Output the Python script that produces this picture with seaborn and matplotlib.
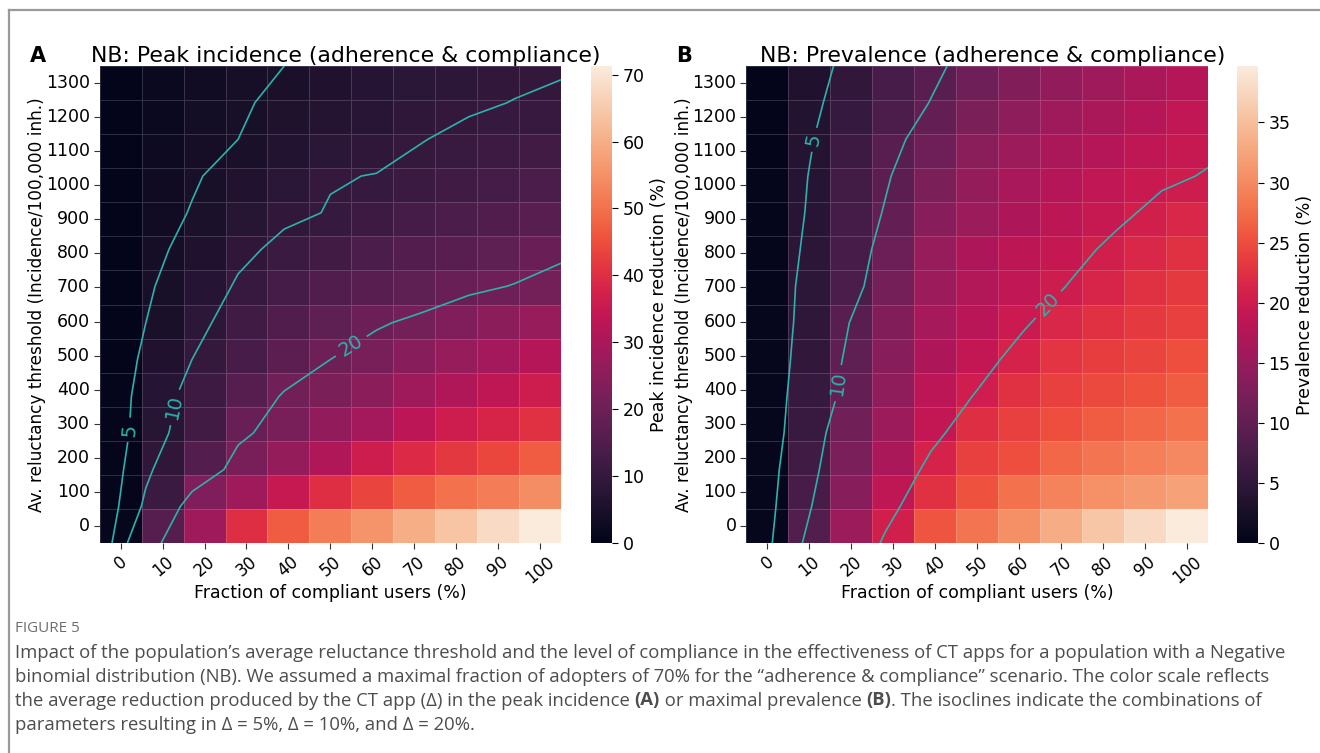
import numpy as np
import pandas as pd
import matplotlib
matplotlib.use("Agg")
import matplotlib.pyplot as plt
import seaborn as sns
from matplotlib.lines import Line2D

# ---------------- data ----------------
fractions = [0, 10, 20, 30, 40, 50, 60, 70, 80, 90, 100]          # % compliant users
thresholds = [0, 100, 200, 300, 400, 500, 600, 700, 800, 900,
              1000, 1100, 1200, 1300]                               # incidence / 100,000 inh.

# Peak incidence reduction (%), rows = thresholds (0 -> 1300), cols = fractions
peak_reduction = [
    [1.0, 16.0, 28.0, 40.0, 47.0, 52.0, 55.5, 60.0, 64.0, 68.0, 71.3],
    [0.8, 11.0, 23.0, 28.0, 35.0, 40.0, 43.5, 47.0, 50.0, 52.0, 54.5],
    [0.7, 9.0, 15.5, 22.0, 26.5, 31.0, 36.0, 39.0, 41.5, 44.0, 47.0],
    [0.6, 7.5, 12.5, 19.0, 22.0, 26.0, 29.0, 33.0, 36.0, 38.0, 40.5],
    [0.6, 7.0, 11.5, 16.0, 20.5, 22.5, 25.0, 28.0, 31.0, 33.5, 36.0],
    [0.5, 6.0, 10.0, 13.5, 17.0, 20.0, 22.0, 24.5, 27.0, 29.0, 31.5],
    [0.5, 5.0, 8.5, 12.0, 15.0, 17.5, 19.5, 21.0, 23.0, 25.0, 27.0],
    [0.5, 4.5, 7.0, 10.5, 13.0, 15.0, 16.5, 17.5, 19.0, 20.2, 21.0],
    [0.4, 4.0, 6.0, 9.0, 11.0, 12.5, 14.0, 15.5, 16.5, 17.5, 19.4],
    [0.4, 3.3, 5.2, 7.5, 9.2, 10.2, 11.5, 13.0, 14.0, 15.0, 16.5],
    [0.4, 2.8, 4.6, 6.3, 8.0, 9.8, 10.1, 11.0, 12.0, 13.0, 14.0],
    [0.3, 2.5, 4.0, 5.0, 6.5, 7.8, 8.8, 9.9, 10.8, 11.5, 12.5],
    [0.3, 2.2, 3.5, 4.6, 5.7, 6.8, 7.7, 8.7, 9.5, 10.1, 10.5],
    [0.3, 2.0, 3.2, 4.2, 5.0, 6.0, 7.0, 7.8, 8.6, 9.2, 9.7],
]

# Prevalence reduction (%), rows = thresholds (0 -> 1300), cols = fractions
prevalence_reduction = [
    [0.5, 8.5, 15.5, 20.5, 25.5, 28.2, 30.5, 33.3, 35.8, 37.7, 39.7],
    [0.5, 7.5, 13.5, 18.7, 22.6, 25.4, 27.8, 29.4, 30.6, 31.4, 32.2],
    [0.5, 6.8, 12.3, 16.7, 21.0, 23.8, 25.0, 27.0, 28.2, 29.0, 29.8],
    [0.5, 6.0, 11.5, 15.5, 19.0, 22.2, 23.8, 25.0, 26.2, 27.0, 27.8],
    [0.5, 5.6, 10.2, 14.3, 18.3, 20.2, 22.6, 23.8, 24.6, 25.4, 26.2],
    [0.5, 5.2, 9.7, 13.5, 17.0, 19.0, 21.0, 22.8, 23.6, 24.2, 25.0],
    [0.5, 4.9, 9.1, 13.0, 16.3, 18.0, 19.7, 21.5, 22.5, 23.3, 24.0],
    [0.4, 4.8, 7.8, 11.8, 15.5, 17.5, 18.8, 20.1, 21.4, 22.5, 23.3],
    [0.4, 4.5, 7.5, 11.0, 15.0, 17.0, 18.5, 19.3, 20.5, 21.5, 22.5],
    [0.4, 4.2, 7.2, 10.2, 13.5, 15.5, 17.0, 18.5, 19.5, 20.6, 21.5],
    [0.4, 4.0, 7.0, 9.6, 12.5, 14.8, 16.5, 17.7, 18.8, 19.6, 20.15],
    [0.3, 3.8, 6.4, 9.0, 11.2, 13.8, 15.5, 16.8, 17.8, 18.7, 19.5],
    [0.3, 3.6, 5.7, 8.0, 10.1, 12.5, 14.2, 15.6, 16.8, 17.8, 18.8],
    [0.3, 3.4, 5.2, 7.5, 9.3, 11.3, 13.0, 14.5, 15.8, 16.8, 17.8],
]

iso_levels = [5, 10, 20]

titles = ["NB: Peak incidence (adherence & compliance)",
          "NB: Prevalence (adherence & compliance)"]
panel_letters = ["A", "B"]
cbar_labels = ["Peak incidence reduction (%)", "Prevalence reduction (%)"]
xlabel = "Fraction of compliant users (%)"
ylabel = "Av. reluctancy threshold (Incidence/100,000 inh.)"

caption_head = "FIGURE 5"
caption_lines = [
    [("Impact of the population\u2019s average reluctance threshold and the level of compliance in the effectiveness of CT apps for a population with a Negative", False)],
    [("binomial distribution (NB). We assumed a maximal fraction of adopters of 70% for the \u201cadherence & compliance\u201d scenario. The color scale reflects", False)],
    [("the average reduction produced by the CT app (\u0394) in the peak incidence ", False), ("(A)", True),
     (" or maximal prevalence ", False), ("(B)", True), (". The isoclines indicate the combinations of", False)],
    [("parameters resulting in \u0394 = 5%, \u0394 = 10%, and \u0394 = 20%.", False)],
]

# ---------------- figure ----------------
W, H = 1320, 753
fig = plt.figure(figsize=(W / 100, H / 100), dpi=100)
fig.patch.set_facecolor("white")


def px_axes(left, top, right, bottom):
    return fig.add_axes([left / W, 1 - bottom / H, (right - left) / W, (bottom - top) / H])


axA = px_axes(99.7, 66, 561, 543)
caxA = px_axes(591, 66, 612, 543)
axB = px_axes(746.3, 66, 1208, 543)
caxB = px_axes(1237, 66, 1258, 543)

contour_color = "#2bb3ab"
label_pos = [
    [(0.70, 10.68), (1.72, 10.0), (6.13, 8.48)],
    [(1.64, 2.17), (2.13, 9.3), (7.16, 6.96)],
]

for i, (ax, cax, vals) in enumerate([(axA, caxA, peak_reduction), (axB, caxB, prevalence_reduction)]):
    Z = np.array(vals, dtype=float)
    df = pd.DataFrame(Z[::-1], index=thresholds[::-1], columns=fractions)
    sns.heatmap(df, ax=ax, cbar_ax=cax, cmap="rocket", vmin=0,
                linewidths=0.6, linecolor=(1, 1, 1, 0.16),
                cbar_kws={"label": cbar_labels[i]})
    ax.set_yticklabels([str(t) for t in thresholds[::-1]], rotation=0, fontsize=12.5)
    ax.set_xticklabels([str(f) for f in fractions], rotation=40, ha="center", fontsize=12)
    ax.tick_params(axis="both", length=4, width=0.8, color="#333333", pad=3)
    ax.set_xlabel(xlabel, fontsize=12.5, labelpad=-2)
    ax.set_ylabel(ylabel, fontsize=12.2, labelpad=0)

    # isoclines over the full heatmap extent
    X = np.linspace(0, len(fractions), len(fractions))
    Y = np.linspace(len(thresholds), 0, len(thresholds))
    cs = ax.contour(X, Y, Z, levels=iso_levels, colors=contour_color, linewidths=1.2)
    ax.clabel(cs, fmt="%d", fontsize=14, inline=True, inline_spacing=6,
              manual=label_pos[i])

    ax.text(0.534, 1.008, titles[i], transform=ax.transAxes, ha="center", va="baseline",
            fontsize=15.8)

    cax.tick_params(labelsize=12.5, length=4, width=0.8)
    cax.yaxis.label.set_size(12.5)

fig.text(30 / W, 1 - 62 / H, panel_letters[0], fontsize=15, fontweight="bold", va="baseline", ha="left")
fig.text(676 / W, 1 - 62 / H, panel_letters[1], fontsize=15, fontweight="bold", va="baseline", ha="left")

# frame
fig.add_artist(Line2D([8.5 / W, 8.5 / W], [0, 1 - 10 / H], transform=fig.transFigure,
                      color="#9a9a9a", linewidth=1.6))
fig.add_artist(Line2D([8.5 / W, 1.0], [1 - 10 / H, 1 - 10 / H], transform=fig.transFigure,
                      color="#9a9a9a", linewidth=1.6))

# caption
cap_font = ["Open Sans", "DejaVu Sans"]
fig.text(15 / W, 1 - 628 / H, caption_head, fontsize=11, color="#6e6e6e", va="center",
         family=cap_font)
renderer = fig.canvas.get_renderer()
line_y = [652.5, 676.5, 700.5, 724.5]
for yy, segs in zip(line_y, caption_lines):
    x = 15.0
    for txt, bold in segs:
        t = fig.text(x / W, 1 - yy / H, txt, fontsize=13.3, color="#4d4d4d", va="center",
                     family=cap_font, fontweight="bold" if bold else "normal")
        bb = t.get_window_extent(renderer=renderer)
        x += bb.width

fig.savefig("out.png", dpi=100, facecolor="white")
